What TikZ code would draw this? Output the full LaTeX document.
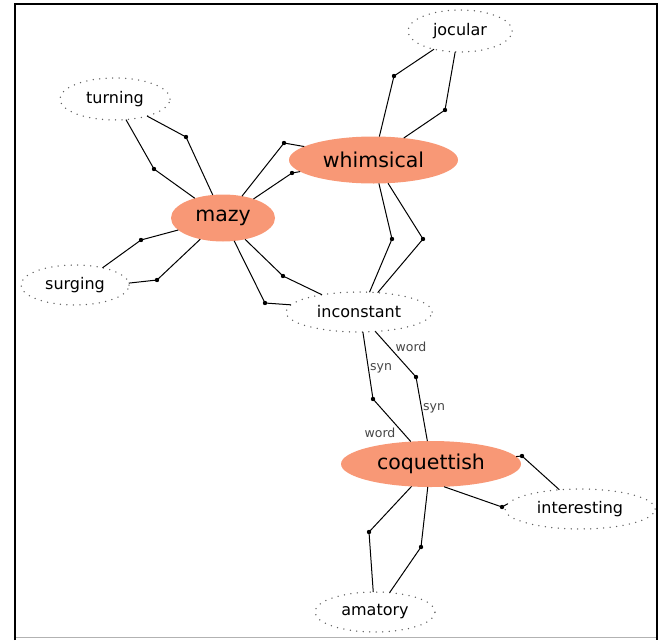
\documentclass[tikz,border=0pt]{standalone}
\usepackage{fontspec}
\setmainfont{DejaVu Sans}
\usetikzlibrary{shapes.geometric}
\definecolor{salmonfill}{RGB}{248,152,118}
\definecolor{dotgray}{RGB}{95,95,95}
\definecolor{labgray}{RGB}{70,70,70}
\tikzset{
  bigword/.style={ellipse, fill=salmonfill, inner sep=0pt, outer sep=0pt, font=\fontsize{20.5}{22}\selectfont},
  smallword/.style={ellipse, draw=dotgray, line width=1.5pt, line cap=round, dash pattern=on 0pt off 6.5pt, fill=white, inner sep=0pt, outer sep=0pt, font=\fontsize{16}{18}\selectfont},
  conn/.style={draw=black, line width=1pt},
  benddot/.style={circle, fill=black, inner sep=0pt, minimum size=4.4pt},
  elabel/.style={text=labgray, inner sep=0pt, font=\fontsize{12.5}{14}\selectfont},
}
\begin{document}
\begin{tikzpicture}[x=1pt, y=-1pt]
\useasboundingbox (0,0) rectangle (661,640);
% frame
\draw[line width=2pt] (15,640) -- (15,4) -- (657,4) -- (657,640);
\draw[line width=1pt, draw=gray!60] (16,637) -- (656,637);

% bend points
\coordinate (d1) at (394,76);
\coordinate (d2) at (445,110);
\coordinate (d3) at (392,239);
\coordinate (d4) at (423,239);
\coordinate (d5) at (284,143);
\coordinate (d6) at (292,173);
\coordinate (d7) at (154,169);
\coordinate (d8) at (186,137);
\coordinate (d9) at (141,240);
\coordinate (d10) at (157,280);
\coordinate (d11) at (265,303);
\coordinate (d12) at (283,276);
\coordinate (d13) at (373,399);
\coordinate (d14) at (416,377);
\coordinate (d15) at (522,456);
\coordinate (d16) at (502,507);
\coordinate (d17) at (369,532);
\coordinate (d18) at (421,547);

% nodes
\node[smallword, minimum width=104pt, minimum height=42pt] (jocular) at (460,31) {jocular};
\node[smallword, minimum width=110pt, minimum height=42pt] (turning) at (115,99) {turning};
\node[bigword, minimum width=169pt, minimum height=47pt] (whimsical) at (373.5,160) {whimsical};
\node[bigword, minimum width=104pt, minimum height=47pt] (mazy) at (223,218) {mazy};
\node[smallword, minimum width=108pt, minimum height=40pt] (surging) at (75,285) {surging};
\node[smallword, minimum width=146pt, minimum height=40pt] (inconstant) at (359,312) {inconstant};
\node[bigword, minimum width=180pt, minimum height=46pt] (coquettish) at (431,464) {coquettish};
\node[smallword, minimum width=150pt, minimum height=40pt] (interesting) at (580,509) {interesting};
\node[smallword, minimum width=120pt, minimum height=40pt] (amatory) at (375,612) {amatory};

% connectors
\draw[conn] (jocular.215) -- (d1) -- (whimsical.76.5);
\draw[conn] (jocular.257) -- (d2) -- (whimsical.36);
\draw[conn] (whimsical.283.5) -- (d3) -- (inconstant.62);
\draw[conn] (whimsical.302) -- (d4) -- (inconstant.46.5);
\draw[conn] (mazy.49.4) -- (d5) -- (whimsical.169.3);
\draw[conn] (mazy.32.3) -- (d6) -- (whimsical.189.5);
\draw[conn] (turning.298.8) -- (d7) -- (mazy.145.8);
\draw[conn] (turning.332) -- (d8) -- (mazy.114.4);
\draw[conn] (surging.32.7) -- (d9) -- (mazy.195);
\draw[conn] (surging.2) -- (d10) -- (mazy.223.7);
\draw[conn] (mazy.296.6) -- (d11) -- (inconstant.174.2);
\draw[conn] (mazy.316) -- (d12) -- (inconstant.155.3);
\draw[conn] (inconstant.281) -- (d13) -- (coquettish.132.4);
\draw[conn] (inconstant.310.6) -- (d14) -- (coquettish.99.9);
\draw[conn] (coquettish.5.3) -- (d15) -- (interesting.137.9);
\draw[conn] (coquettish.300.3) -- (d16) -- (interesting.176.9);
\draw[conn] (coquettish.229) -- (d17) -- (amatory.95.7);
\draw[conn] (coquettish.262.6) -- (d18) -- (amatory.53.6);

% bend dots
\foreach \i in {1,...,18} { \node[benddot] (b\i) at (d\i) {}; }

% connector labels
\node[elabel] (l13a) at (381,368) {syn};
\node[elabel] (l13b) at (380,433) {word};
\node[elabel] (l14a) at (411,347) {word};
\node[elabel] (l14b) at (434,408) {syn};
\end{tikzpicture}
\end{document}
